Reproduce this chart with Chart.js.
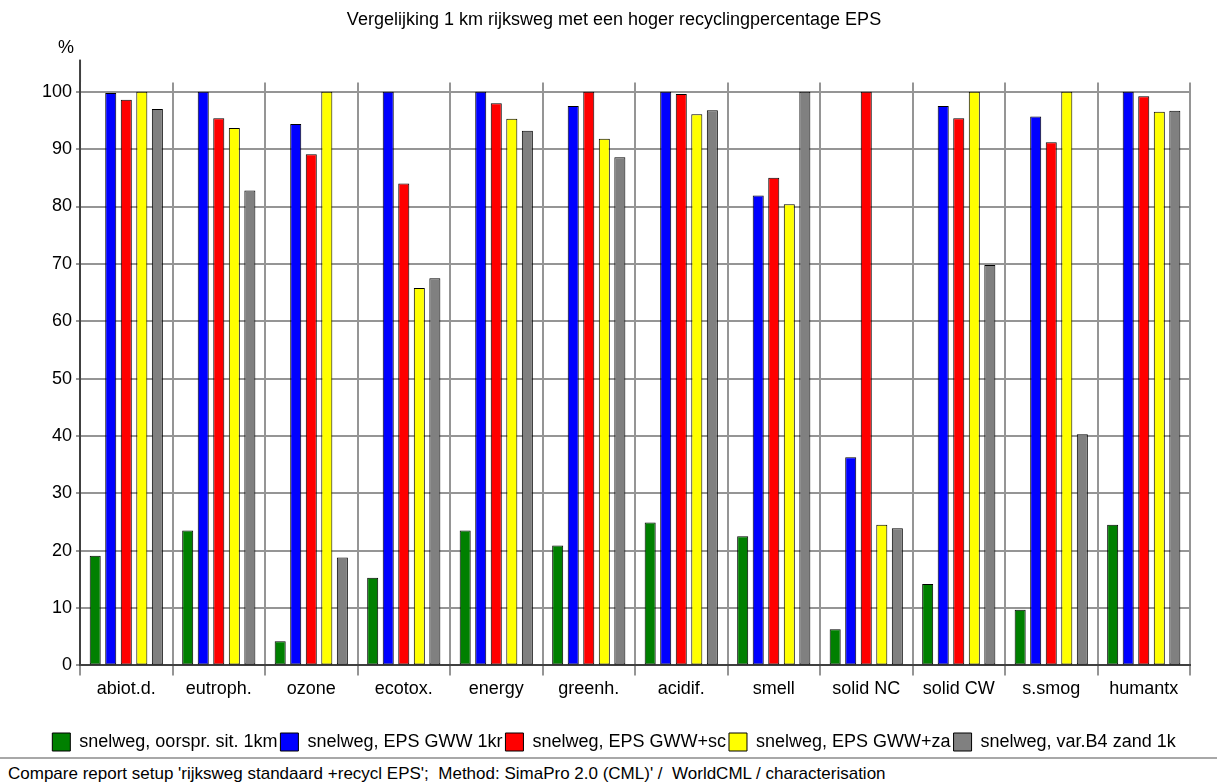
<!DOCTYPE html>
<html lang="nl">
<head>
    <meta charset="UTF-8">
    <title>Vergelijking 1 km rijksweg</title>
    <script src="https://cdn.jsdelivr.net/npm/chart.js@4.4.1/dist/chart.umd.min.js"></script>
    <style>
        body {
            margin: 0;
            background: white;
            font-family: "Liberation Sans", Arial, sans-serif;
        }
        .page {
            position: relative;
            width: 1217px;
            height: 783px;
            overflow: hidden;
        }
        .chart-box {
            width: 1217px;
            height: 764px;
            position: relative;
        }
        .footer {
            position: absolute;
            left: 0;
            top: 757px;
            width: 1217px;
            border-top: 2px solid #a8a8a8;
            font-size: 17px;
            line-height: 29px;
            padding-left: 8px;
            box-sizing: border-box;
            background: white;
            color: #000;
        }
    </style>
</head>
<body>
<div class="page">
    <div class="chart-box">
        <canvas id="compareChart"></canvas>
    </div>
    <div class="footer">Compare report setup 'rijksweg standaard +recycl EPS';&nbsp; Method: SimaPro 2.0 (CML)' /&nbsp; WorldCML / characterisation</div>
</div>

    <script>
        const categories = ['abiot.d.', 'eutroph.', 'ozone', 'ecotox.', 'energy', 'greenh.',
                            'acidif.', 'smell', 'solid NC', 'solid CW', 's.smog', 'humantx'];

        const seriesNames = ['snelweg, oorspr. sit. 1km', 'snelweg, EPS GWW 1kr', 'snelweg, EPS GWW+sc',
                             'snelweg, EPS GWW+za', 'snelweg, var.B4 zand 1k'];

        const oorsprSit   = [19.1, 23.5, 4.2, 15.3, 23.5, 20.9, 24.9, 22.5, 6.3, 14.2, 9.7, 24.5];
        const epsGww1kr   = [99.8, 100, 94.4, 100, 100, 97.5, 100, 81.9, 36.3, 97.5, 95.7, 100];
        const epsGwwSc    = [98.6, 95.4, 89.1, 84.0, 98.0, 100, 99.6, 85.0, 100, 95.4, 91.2, 99.2];
        const epsGwwZa    = [100, 93.7, 100, 65.8, 95.3, 91.8, 96.1, 80.4, 24.5, 100, 100, 96.5];
        const varB4Zand   = [97.0, 82.8, 18.8, 67.5, 93.2, 88.6, 96.8, 100, 23.9, 69.8, 40.3, 96.7];

        const seriesColors = ['#008000', '#0000ff', '#ff0000', '#ffff00', '#808080'];
        const yTicks = [0, 10, 20, 30, 40, 50, 60, 70, 80, 90, 100];

        const font = { family: '"Liberation Sans", Arial, sans-serif', size: 18 };

        // "%" label and the part of the y axis that sticks out above the grid
        const axisTopPlugin = {
            id: 'axisTop',
            afterDraw(chart) {
                const ctx = chart.ctx;
                const x = chart.scales.y.right;
                const top = chart.chartArea.top;
                ctx.save();
                ctx.strokeStyle = '#404040';
                ctx.lineWidth = 2;
                ctx.beginPath();
                ctx.moveTo(x, top);
                ctx.lineTo(x, top - 23);
                ctx.stroke();
                ctx.fillStyle = '#000';
                ctx.font = '18px "Liberation Sans", Arial, sans-serif';
                ctx.textAlign = 'right';
                ctx.textBaseline = 'middle';
                ctx.fillText('%', x - 6, top - 35);
                ctx.restore();
            }
        };

        const allSeries = [oorsprSit, epsGww1kr, epsGwwSc, epsGwwZa, varB4Zand];

        new Chart(document.getElementById('compareChart'), {
            type: 'bar',
            data: {
                labels: categories,
                datasets: allSeries.map((values, i) => ({
                    label: seriesNames[i],
                    data: values,
                    backgroundColor: seriesColors[i],
                    borderColor: '#000',
                    borderWidth: 1,
                    borderSkipped: false,
                    categoryPercentage: 0.84,
                    barPercentage: 0.71
                }))
            },
            options: {
                responsive: true,
                maintainAspectRatio: false,
                animation: false,
                layout: { padding: { left: 38, right: 27, top: 0, bottom: 3 } },
                plugins: {
                    title: {
                        display: true,
                        text: 'Vergelijking 1 km rijksweg met een hoger recyclingpercentage EPS',
                        color: '#000',
                        font: { ...font, weight: 'normal' },
                        padding: { top: 9, bottom: 52 }
                    },
                    legend: {
                        position: 'bottom',
                        labels: {
                            color: '#000',
                            font: font,
                            boxWidth: 18,
                            boxHeight: 18,
                            padding: 3
                        }
                    },
                    tooltip: { enabled: false }
                },
                scales: {
                    x: {
                        afterFit: (scale) => { scale.height += 27; },
                        grid: {
                            color: '#959595',
                            lineWidth: 2,
                            tickLength: 10
                        },
                        border: { color: '#404040', width: 2 },
                        ticks: { color: '#000', font: font, padding: 3 }
                    },
                    y: {
                        min: 0,
                        max: 101.6,
                        afterBuildTicks: (scale) => {
                            scale.ticks = yTicks.map(v => ({ value: v }));
                        },
                        grid: {
                            color: '#959595',
                            lineWidth: 2,
                            tickLength: 4
                        },
                        border: { color: '#404040', width: 2 },
                        ticks: { color: '#000', font: font, padding: 4 }
                    }
                }
            },
            plugins: [axisTopPlugin]
        });
    </script>
</body>
</html>
